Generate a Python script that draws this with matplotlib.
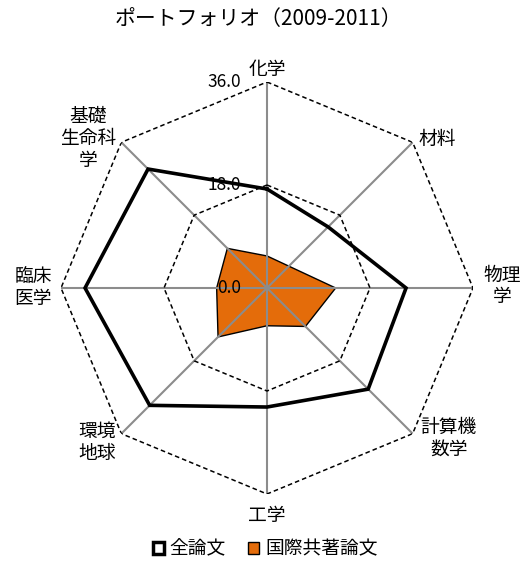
import numpy as np
import matplotlib
matplotlib.use("Agg")
import matplotlib.pyplot as plt
from matplotlib.patches import Patch
import matplotlib.transforms as mtransforms

plt.rcParams['font.family'] = ['Noto Sans CJK JP', 'DejaVu Sans']

categories = ["化学", "材料", "物理\n学", "計算機\n数学", "工学", "環境\n地球", "臨床\n医学", "基礎\n生命科\n学"]
all_papers = [17.3, 15.1, 24.3, 25.0, 20.8, 29.0, 31.8, 29.4]
intl_papers = [5.6, 5.4, 12.0, 9.5, 6.6, 12.1, 8.8, 9.8]
tick_values = [0.0, 18.0, 36.0]
tick_labels = ["0.0", "18.0", "36.0"]
series_names = ["全論文", "国際共著論文"]
title = "ポートフォリオ（2009-2011）"

label_offsets = [(0, 12), (25, 3), (29, 2), (36, -5), (0, -21), (-24, -9), (-28, 0), (-33, 4)]

W, H = 527, 562
fig = plt.figure(figsize=(W / 100, H / 100), dpi=100)
cx, cy, R = 267, 288, 206
ax = fig.add_axes([(cx - R) / W, (H - cy - R) / H, 2 * R / W, 2 * R / H], projection='polar')
ax.set_theta_offset(np.pi / 2)
ax.set_theta_direction(-1)
ax.set_ylim(0, 36)
ax.grid(False)
ax.spines['polar'].set_visible(False)
ax.set_xticks([])
ax.set_yticks([])
ax.patch.set_alpha(0)

n = len(categories)
theta = np.arange(n) * 2 * np.pi / n
theta_c = np.append(theta, theta[0])

# orange filled series
iv = np.append(intl_papers, intl_papers[0])
ax.fill(theta_c, iv, facecolor='#E46C0A', edgecolor='black', linewidth=1.0, zorder=1)

# spokes
for t in theta:
    ax.plot([t, t], [0, 36], color='#8c8c8c', lw=1.5, zorder=2, solid_capstyle='butt')

# dashed rings
for v in tick_values[1:]:
    ax.plot(theta_c, [v] * (n + 1), color='black', lw=1.1, ls=(0, (3, 2)), zorder=2)

# all papers line
av = np.append(all_papers, all_papers[0])
ax.plot(theta_c, av, color='black', lw=2.6, zorder=3, solid_joinstyle='miter')

# tick labels
off = mtransforms.ScaledTranslation(-0.26, 0.0, fig.dpi_scale_trans)
for v, lab in zip(tick_values, tick_labels):
    ax.text(0, v, lab, transform=ax.transData + off, ha='right', va='center',
            fontsize=12.5, zorder=5)

# category labels
for t, lab, (dx, dy) in zip(theta, categories, label_offsets):
    ax.annotate(lab, xy=(t, 36), xytext=(dx, dy), textcoords='offset pixels',
                ha='center', va='center', fontsize=13.5, linespacing=1.05,
                annotation_clip=False)

fig.text(258 / W, 1 - 19 / H, title, ha='center', va='center', fontsize=15)

handles = [Patch(facecolor='white', edgecolor='black', linewidth=2.5),
           Patch(facecolor='#E46C0A', edgecolor='black', linewidth=1.0)]
fig.legend(handles, series_names, loc='center', bbox_to_anchor=(265 / W, 1 - 549 / H),
           ncol=2, frameon=False, fontsize=13.5, handlelength=0.6, handleheight=0.6,
           handletextpad=0.3, columnspacing=1.2)

fig.savefig("out.png", dpi=100)
